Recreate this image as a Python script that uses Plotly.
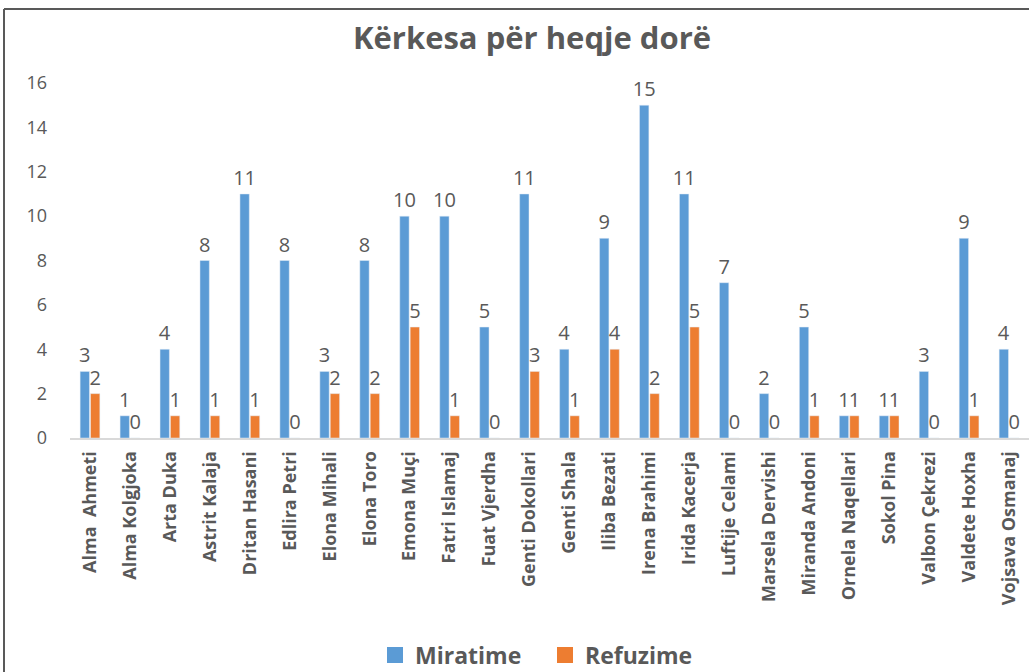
import plotly.graph_objects as go

categories = ["Alma  Ahmeti", "Alma Kolgjoka", "Arta Duka", "Astrit Kalaja", "Dritan Hasani",
              "Edlira Petri", "Elona Mihali", "Elona Toro", "Emona Muçi", "Fatri Islamaj",
              "Fuat Vjerdha", "Genti Dokollari", "Genti Shala", "Iliba Bezati", "Irena Brahimi",
              "Irida Kacerja", "Luftije Celami", "Marsela Dervishi", "Miranda Andoni",
              "Ornela Naqellari", "Sokol Pina", "Valbon Çekrezi", "Valdete Hoxha", "Vojsava Osmanaj"]
miratime = [3, 1, 4, 8, 11, 8, 3, 8, 10, 10, 5, 11, 4, 9, 15, 11, 7, 2, 5, 1, 1, 3, 9, 4]
refuzime = [2, 0, 1, 1, 1, 0, 2, 2, 5, 1, 0, 3, 1, 4, 2, 5, 0, 0, 1, 1, 1, 0, 1, 0]
series_names = ["Miratime", "Refuzime"]
y_ticks = [0, 2, 4, 6, 8, 10, 12, 14, 16]

FONT = "Open Sans"
GRAY = "#595959"
COLORS = ["#5B9BD5", "#ED7D31"]

fig = go.Figure()
for name, vals, col in zip(series_names, [miratime, refuzime], COLORS):
    fig.add_trace(go.Bar(x=categories, y=vals, name=name, marker_color=col, showlegend=False,
                         text=vals, textposition="outside", constraintext="none",
                         textfont=dict(family=FONT, size=20, color=GRAY), cliponaxis=False))
for name, col in zip(series_names, COLORS):
    fig.add_trace(go.Scatter(x=[None], y=[None], mode="markers", name="<b>%s</b>" % name,
                             marker=dict(symbol="square", size=16, color=col)))

W, H = 1029, 672
L, R, T, B = 70, 0, 83, 234
pw, ph = W - L - R, H - T - B

def px_x(p):
    return (p - L) / pw

def px_y(p):
    return (H - B - p) / ph

fig.update_layout(
    width=W, height=H,
    margin=dict(l=L, r=R, t=T, b=B, autoexpand=False),
    paper_bgcolor="white", plot_bgcolor="white",
    barmode="group", bargap=0.48, bargroupgap=0.1,
    title=dict(text="<b>Kërkesa për heqje dorë</b>", x=532 / W, xanchor="center",
               y=1 - 38 / H, yanchor="middle",
               font=dict(family=FONT, size=31, color=GRAY)),
    showlegend=True,
    legend=dict(orientation="h", x=px_x(545), xanchor="center", y=px_y(655), yanchor="middle",
                font=dict(family=FONT, size=23, color=GRAY), traceorder="normal",
                itemwidth=30, entrywidth=125, itemclick=False),
)
fig.update_xaxes(showgrid=False, showline=True, linecolor="#D9D9D9", linewidth=2,
                 tickangle=-90, ticks="", tickfont=dict(family=FONT, size=18, color=GRAY),
                 ticklabelstandoff=4, tickmode="array", tickvals=categories,
                 ticktext=["<b>%s</b>" % c for c in categories])
fig.update_yaxes(range=[0, 16], tickvals=y_ticks, showgrid=False, zeroline=False, showline=False,
                 ticks="", tickfont=dict(family=FONT, size=18, color=GRAY), ticklabelstandoff=22)

# chart border (top and left visible)
fig.add_shape(type="line", xref="paper", yref="paper", x0=px_x(4), x1=px_x(1035),
              y0=px_y(9), y1=px_y(9), line=dict(color="#595959", width=2))
fig.add_shape(type="line", xref="paper", yref="paper", x0=px_x(4), x1=px_x(4),
              y0=px_y(9), y1=px_y(680), line=dict(color="#595959", width=2))

fig.write_html("out.html", config={"displayModeBar": False},
               post_script="document.body.style.margin='0';document.body.style.overflow='hidden';")
